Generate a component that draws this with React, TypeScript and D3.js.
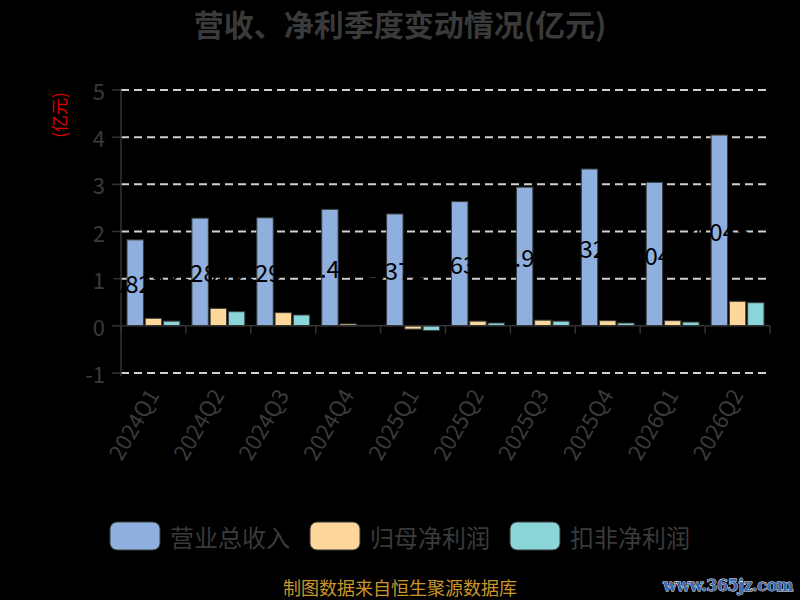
import React from "react";
import * as d3 from "d3";

const categories = ["2024Q1","2024Q2","2024Q3","2024Q4","2025Q1","2025Q2","2025Q3","2025Q4","2026Q1","2026Q2"];
const revenue = [1.823, 2.283, 2.291, 2.47, 2.372, 2.634, 2.94, 3.325, 3.043, 4.045];
const netProfit = [0.16, 0.37, 0.28, 0.04, -0.07, 0.10, 0.12, 0.11, 0.11, 0.52];
const deductedProfit = [0.10, 0.30, 0.23, 0.01, -0.10, 0.06, 0.10, 0.06, 0.08, 0.49];
const seriesNames = ["营业总收入", "归母净利润", "扣非净利润"];
const seriesColors = ["#8fb0de", "#fdd89a", "#89d5d8"];
const yTicks = [-1, 0, 1, 2, 3, 4, 5];

const FONT = "'Noto Sans CJK SC', 'Noto Sans', sans-serif";

export default function App() {
  const W = 800, H = 600;
  const left = 121, right = 770, top = 90, bottom = 373;
  const x = d3.scaleBand<string>().domain(categories).range([left, right]).paddingInner(0).paddingOuter(0);
  const y = d3.scaleLinear().domain([-1, 5]).range([bottom, top]);
  const series = [revenue, netProfit, deductedProfit];
  const inner = d3.scaleBand<number>().domain([0, 1, 2]).range([6, x.bandwidth() - 6]).paddingInner(0.1);
  const axisColor = "#333";
  const textColor = "#3a3a3a";

  return (
    <svg width={W} height={H} style={{ position: "absolute", left: 0, top: 0, background: "#000" }} fontFamily={FONT}>
      <rect x={0} y={0} width={W} height={H} fill="#000" />
      <text x={400} y={23} textAnchor="middle" dominantBaseline="central" fontSize={30} fontWeight="bold" fill={textColor}>
        营收、净利季度变动情况(亿元)
      </text>
      <text transform={`translate(58,115) rotate(-90)`} textAnchor="middle" dominantBaseline="central" fontSize={17} fill="#e00000">
        (亿元)
      </text>
      {/* grid lines */}
      {yTicks.filter(t => t !== 0).map(t => (
        <line key={"g" + t} x1={left} x2={right} y1={y(t)} y2={y(t)} stroke="#d0d0d0" strokeWidth={2} strokeDasharray="8,5" />
      ))}
      {/* y axis */}
      <line x1={left} x2={left} y1={top} y2={y(-1) + 3} stroke={axisColor} strokeWidth={1.5} />
      {yTicks.map(t => (
        <g key={"t" + t}>
          <line x1={left - 9} x2={left} y1={y(t)} y2={y(t)} stroke={axisColor} strokeWidth={1.5} />
          <text x={left - 16} y={y(t)} textAnchor="end" dominantBaseline="central" fontSize={22} fill={textColor}>{t}</text>
        </g>
      ))}
      {/* bars */}
      {categories.map((c, i) => (
        <g key={c}>
          {series.map((s, k) => {
            const v = s[i];
            const y0 = y(Math.max(0, v));
            const h = Math.abs(y(v) - y(0));
            return (
              <rect key={k} x={(x(c) as number) + (inner(k) as number)} y={y0} width={inner.bandwidth()} height={h}
                fill={seriesColors[k]} stroke="#3a3a3a" strokeWidth={1} />
            );
          })}
        </g>
      ))}
      {/* x axis */}
      <line x1={left} x2={right} y1={y(0)} y2={y(0)} stroke={axisColor} strokeWidth={1.5} />
      {d3.range(categories.length + 1).map(i => {
        const xx = left + i * x.bandwidth();
        return <line key={"xt" + i} x1={xx} x2={xx} y1={y(0)} y2={y(0) + 8} stroke={axisColor} strokeWidth={1.5} />;
      })}
      {/* value labels */}
      {categories.map((c, i) => {
        const cx = (x(c) as number) + (inner(0) as number) + inner.bandwidth() / 2;
        return (
          <text key={"l" + c} x={cx} y={(y(revenue[i]) + y(0)) / 2} textAnchor="middle" dominantBaseline="central" fontSize={24} fill="#000">
            {String(revenue[i])}
          </text>
        );
      })}
      {/* x labels */}
      {categories.map(c => {
        const cx = (x(c) as number) + x.bandwidth() / 2;
        return (
          <text key={"xl" + c} transform={`translate(${cx - 2},390) rotate(-60)`} textAnchor="end" dominantBaseline="central" fontSize={22} fill={textColor}>
            {c}
          </text>
        );
      })}
      {/* legend */}
      {seriesNames.map((n, k) => {
        const lx = [110, 310, 510][k];
        return (
          <g key={n}>
            <rect x={lx} y={522} width={50} height={28} rx={7} fill={seriesColors[k]} stroke="#3a3a3a" strokeWidth={1} />
            <text x={lx + 60} y={536} dominantBaseline="central" fontSize={24} fill={textColor}>{n}</text>
          </g>
        );
      })}
      <text x={400} y={587} textAnchor="middle" dominantBaseline="central" fontSize={18} fill="#c8962a">
        制图数据来自恒生聚源数据库
      </text>
      <text x={793} y={585} textAnchor="end" dominantBaseline="central" fontSize={16} fontWeight="bold" fontFamily="'DejaVu Serif', serif"
        fill="#3a68ad" stroke="#ffffff" strokeWidth={0.8} paintOrder="stroke" letterSpacing={-0.5}>
        www.365jz.com
      </text>
    </svg>
  );
}
